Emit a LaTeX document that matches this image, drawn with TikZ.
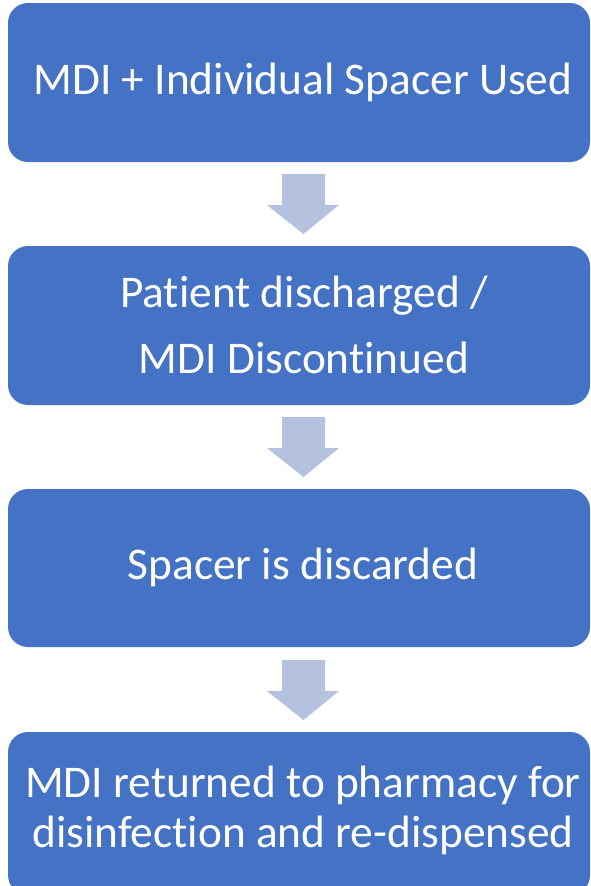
\documentclass[tikz,border=0pt]{standalone}
\usepackage{fontspec}
\setmainfont{Carlito}[RawFeature={-liga;-clig;-dlig;-hlig}]
\definecolor{boxblue}{HTML}{4472C4}
\definecolor{arrowblue}{HTML}{B4C2E0}
\begin{document}
\begin{tikzpicture}[x=0.75pt,y=-0.75pt,
  stepbox/.style={fill=boxblue,draw=none,rounded corners=15pt},
  lbl/.style={text=white,font=\fontsize{34}{50}\selectfont,align=center,inner sep=0pt},
  downarrow/.style={fill=arrowblue,draw=none}]
\useasboundingbox (0,0) rectangle (591,886);
\fill[stepbox] (8,3) rectangle (590,162);
\fill[stepbox] (8,246) rectangle (590,405);
\fill[stepbox] (8,489) rectangle (590,647);
\fill[stepbox] (8,732) rectangle (590,895);
\node[lbl] (t1) at (303,82) {MDI + Individual Spacer Used};
\node[lbl] (t2) at (304,325) {Pat{}ient discharged /\\MDI Discont{}inued};
\node[lbl] (t3) at (303,567) {Spacer is discarded};
\node[lbl,font=\fontsize{34}{37.5}\selectfont] (t4) at (303,810) {MDI returned to pharmacy for\\disinfect{}ion and re-dispensed};
\foreach \y in {174,417,660}{
  \fill[downarrow] (282,\y) -- (325,\y) -- (325,\y+31) -- (339,\y+31) -- (303.5,\y+60) -- (267,\y+31) -- (282,\y+31) -- cycle;
}
\end{tikzpicture}
\end{document}
